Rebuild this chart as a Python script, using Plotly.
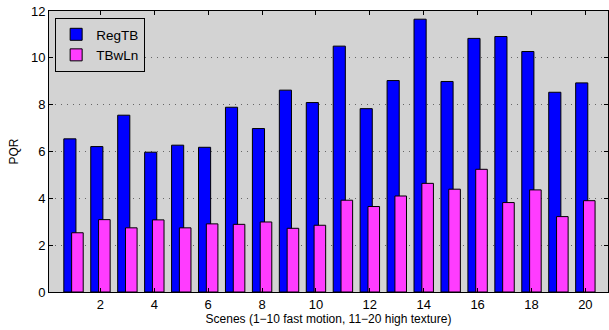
import plotly.graph_objects as go

scenes = list(range(1, 21))
regtb = [6.54, 6.21, 7.55, 5.97, 6.27, 6.18, 7.89, 6.98, 8.62, 8.09,
         10.50, 7.83, 9.03, 11.65, 8.99, 10.83, 10.91, 10.27, 8.53, 8.93]
tbwln = [2.53, 3.09, 2.74, 3.08, 2.74, 2.91, 2.89, 2.99, 2.72, 2.85,
         3.92, 3.65, 4.10, 4.64, 4.39, 5.24, 3.82, 4.36, 3.22, 3.90]
xticks = list(range(2, 21, 2))
yticks = list(range(0, 13, 2))

fig = go.Figure()
fig.add_trace(go.Bar(x=scenes, y=regtb, name="RegTB", width=0.45, offset=-0.36,
                     marker=dict(color="#0000ff", line=dict(color="black", width=1))))
fig.add_trace(go.Bar(x=scenes, y=tbwln, name="TBwLn", width=0.43, offset=-0.07,
                     marker=dict(color="#ff3cff", line=dict(color="black", width=1))))

font = dict(family="Liberation Sans, Arial, sans-serif", size=12, color="black")
fig.update_layout(
    width=609, height=330,
    margin=dict(l=49, r=1, t=11, b=38),
    barmode="overlay",
    paper_bgcolor="white",
    plot_bgcolor="#d3d3d3",
    font=font,
    showlegend=True,
    legend=dict(x=0.011, y=0.975, xanchor="left", yanchor="top",
                bgcolor="#d3d3d3", bordercolor="black", borderwidth=1,
                font=dict(family="Liberation Sans, Arial, sans-serif", size=13.5, color="black"),
                tracegroupgap=0, itemwidth=30),
    xaxis=dict(range=[0.09, 20.84], tickvals=xticks, ticktext=[str(v) for v in xticks],
               showline=True, linecolor="black", linewidth=1, mirror="ticks",
               ticks="inside", ticklen=4, tickcolor="black", showgrid=False, zeroline=False,
               title=dict(text="Scenes (1\u221210 fast motion, 11\u221220 high texture)",
                          standoff=4, font=dict(size=12)),
               tickfont=dict(size=13)),
    yaxis=dict(range=[0, 12], tickvals=yticks, ticktext=[str(v) for v in yticks],
               showline=True, linecolor="black", linewidth=1, mirror="ticks",
               ticks="inside", ticklen=4, tickcolor="black",
               showgrid=True, gridcolor="#666666", griddash="1px,5px", gridwidth=1,
               zeroline=False,
               title=dict(text="PQR", standoff=9, font=dict(size=12)),
               tickfont=dict(size=13)),
)

fig.write_html("out.html", config={"displayModeBar": False},
               post_script="document.body.style.margin='0';document.body.style.overflow='hidden';")
